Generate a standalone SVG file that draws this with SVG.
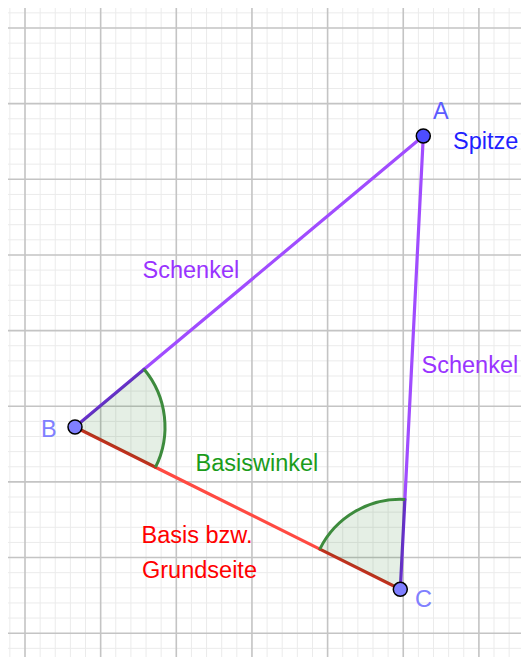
<svg xmlns="http://www.w3.org/2000/svg" width="521" height="657" viewBox="0 0 521 657">
<style>
.minor{stroke:#ebebeb;stroke-width:1;fill:none}
.major{stroke:#c4c4c4;stroke-width:1.6;fill:none}
.t{font-family:"Liberation Sans",Arial,sans-serif;font-size:23.5px}
.leg{stroke:#a04cff;stroke-width:3.2;stroke-linecap:round}
.legd{stroke:#6a2fd0;stroke-width:3.2;stroke-linecap:round}
.base{stroke:#ff4a42;stroke-width:3.2;stroke-linecap:round}
.based{stroke:#c4301f;stroke-width:3.2;stroke-linecap:round}
.sector{fill:#006400;fill-opacity:0.1;stroke:none}
.arc{fill:none;stroke:#3d8b3d;stroke-width:3}
.pt{stroke:#000;stroke-width:1.5}
</style>
<rect width="521" height="657" fill="#fff"/>
<g id="grid">
<path class="minor" d="M9.87,8V657M40.13,8V657M55.26,8V657M70.39,8V657M85.52,8V657M115.78,8V657M130.91,8V657M146.04,8V657M161.17,8V657M191.43,8V657M206.56,8V657M221.69,8V657M236.82,8V657M267.08,8V657M282.21,8V657M297.34,8V657M312.47,8V657M342.73,8V657M357.86,8V657M372.99,8V657M388.12,8V657M418.38,8V657M433.51,8V657M448.64,8V657M463.77,8V657M494.03,8V657M509.16,8V657
M8,12.87H521M8,43.13H521M8,58.26H521M8,73.39H521M8,88.52H521M8,118.78H521M8,133.91H521M8,149.04H521M8,164.17H521M8,194.43H521M8,209.56H521M8,224.69H521M8,239.82H521M8,270.08H521M8,285.21H521M8,300.34H521M8,315.47H521M8,345.73H521M8,360.86H521M8,375.99H521M8,391.12H521M8,421.38H521M8,436.51H521M8,451.64H521M8,466.77H521M8,497.03H521M8,512.16H521M8,527.29H521M8,542.42H521M8,572.68H521M8,587.81H521M8,602.94H521M8,618.07H521M8,648.33H521"/>
<path class="major" d="M25,8V657M100.65,8V657M176.3,8V657M251.95,8V657M327.6,8V657M403.25,8V657M478.9,8V657
M8,28H521M8,103.65H521M8,179.3H521M8,254.95H521M8,330.6H521M8,406.25H521M8,481.9H521M8,557.55H521M8,633.2H521"/>
</g>
<g id="connectors">
<line id="AB" class="leg" x1="423.3" y1="136" x2="144.1" y2="369.3"/>
<line id="AC" class="leg" x1="423.3" y1="136" x2="404.9" y2="499.4"/>
<line id="BC" class="base" x1="155.5" y1="467.2" x2="319.8" y2="549.1"/>
<line class="legd" x1="75" y1="427" x2="144.1" y2="369.3"/>
<line class="based" x1="75" y1="427" x2="155.5" y2="467.2"/>
<line class="legd" x1="400.3" y1="589.3" x2="404.9" y2="499.4"/>
<line class="based" x1="400.3" y1="589.3" x2="319.8" y2="549.1"/>
</g>
<g id="angleB">
<path class="sector" d="M75,427L144.1,369.3A90,90 0 0 1 155.5,467.2Z"/>
<path class="arc" d="M144.1,369.3A90,90 0 0 1 155.5,467.2"/>
</g>
<g id="angleC">
<path class="sector" d="M400.3,589.3L319.8,549.1A90,90 0 0 1 404.9,499.4Z"/>
<path class="arc" d="M319.8,549.1A90,90 0 0 1 404.9,499.4"/>
</g>
<g id="pointA">
<circle class="pt" cx="423.3" cy="136" r="7" fill="#4d4dff"/>
<text class="t" x="433" y="119" fill="#5c5cff">A</text>
<text class="t" x="453" y="148.5" fill="#1f1fff">Spitze</text>
</g>
<g id="pointB">
<circle class="pt" cx="75" cy="427" r="7" fill="#7f7fff"/>
<text class="t" x="41" y="436.7" fill="#8080ff">B</text>
</g>
<g id="pointC">
<circle class="pt" cx="400.3" cy="589.3" r="7" fill="#7f7fff"/>
<text class="t" x="415" y="606.7" fill="#8080ff">C</text>
</g>
<g id="labels">
<text class="t" x="142.5" y="277.5" fill="#9933ff">Schenkel</text>
<text class="t" x="421.5" y="372.7" fill="#9933ff">Schenkel</text>
<text class="t" x="195.5" y="471" fill="#1a9c1a">Basiswinkel</text>
<text class="t" x="141.5" y="542.7" fill="#ff0000">Basis bzw.</text>
<text class="t" x="142" y="578.3" fill="#ff0000">Grundseite</text>
</g>
</svg>
